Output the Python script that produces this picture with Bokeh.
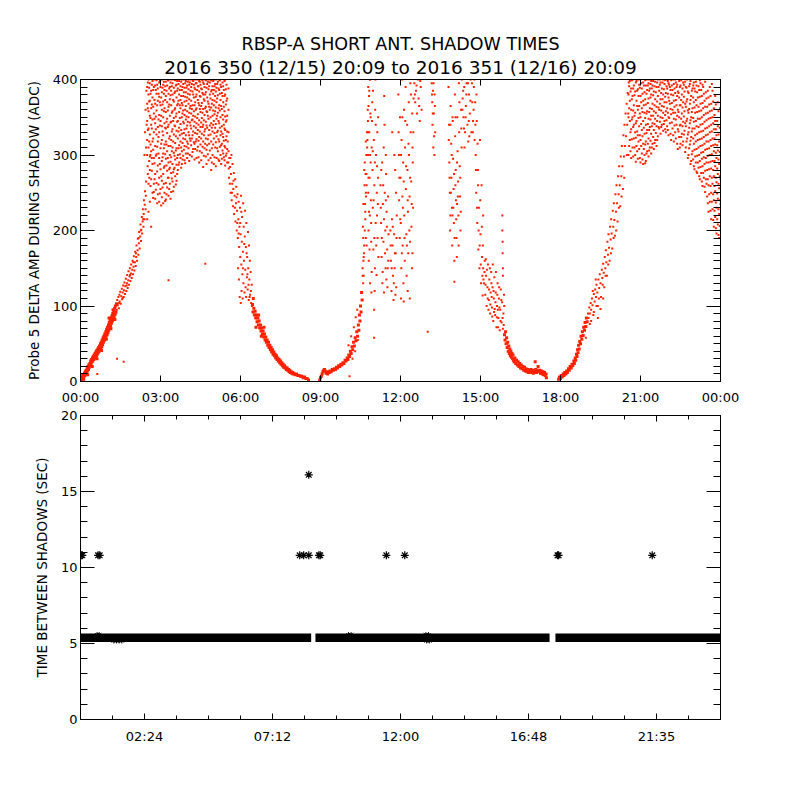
from bokeh.plotting import figure
from bokeh.models import Range1d, FixedTicker, LinearAxis, Title
from bokeh.layouts import column
from bokeh.embed import file_html
from bokeh.resources import INLINE

FONT = "DejaVu Sans"

# ---------------- texts / ticks ----------------
TITLE_1 = "RBSP-A SHORT ANT. SHADOW TIMES"
TITLE_2 = "2016 350 (12/15) 20:09 to 2016 351 (12/16) 20:09"
Y1_LABEL = "Probe 5 DELTA AMP DURING SHADOW (ADC)"
Y2_LABEL = "TIME BETWEEN SHADOWS (SEC)"

top_x_ticks = [0, 3, 6, 9, 12, 15, 18, 21, 24]
top_x_labels = ["00:00", "03:00", "06:00", "09:00", "12:00", "15:00", "18:00", "21:00", "00:00"]
top_y_ticks = [0, 100, 200, 300, 400]
top_y_minor = [v for v in range(10, 400, 10) if v % 100]
bot_x_ticks = [2.4, 7.2, 12.0, 16.8, 21.6]
bot_x_labels = ["02:24", "07:12", "12:00", "16:48", "21:35"]
bot_x_minor = [1.2, 3.6, 4.8, 6.0, 8.4, 9.6, 10.8, 13.2, 14.4, 15.6, 18.0, 19.2, 20.4, 22.8]
bot_y_ticks = [0, 5, 10, 15, 20]
bot_y_minor = [1, 2, 3, 4, 6, 7, 8, 9, 11, 12, 13, 14, 16, 17, 18, 19]

# ---------------- top panel data (hours, ADC) ----------------
# tight bands
rise1 = [(0.00,1),(0.02,4),(0.03,0),(0.05,6),(0.06,3),(0.08,8),(0.10,5),(0.11,9),(0.12,3),(0.13,7),(0.15,11),(0.16,8),
         (0.18,13),(0.20,10),(0.21,15),(0.23,12),(0.25,17),(0.26,14),(0.27,9),(0.28,20),(0.30,16),(0.31,22),(0.33,19),
         (0.35,24),(0.36,21),(0.38,27),(0.40,23),(0.41,29),(0.43,26),(0.44,20),(0.45,31),(0.46,27),(0.48,33),(0.50,29),
         (0.51,35),(0.53,31),(0.55,37),(0.56,32),(0.58,39),(0.60,34),(0.61,41),(0.62,30),(0.63,36),(0.65,43),(0.66,38),
         (0.68,45),(0.70,40),(0.71,47),(0.73,42),(0.75,50),(0.76,44),(0.78,52),(0.79,41),(0.80,46),(0.81,55),(0.83,49),
         (0.85,58),(0.86,52),(0.88,60),(0.90,55),(0.91,63),(0.93,57),(0.95,66),(0.96,60),(0.97,56),(0.98,69),(1.00,62),
         (1.01,72),(1.03,65),(1.05,75),(1.06,68),(1.07,84),(1.08,78),(1.10,71),(1.11,81),(1.13,74),(1.14,70),(1.15,84),
         (1.16,77),(1.18,87),(1.20,80),(1.21,90),(1.22,95),(1.23,83),(1.25,93),(1.26,86),(1.28,97),(1.29,82),(1.30,89),
         (1.31,100),(1.33,92),(1.35,103)]

descent1b = [(6.45,102),(6.47,92),(6.48,110),(6.50,97),(6.52,88),(6.55,93),(6.57,84),(6.58,72),(6.60,88),(6.62,79),
             (6.65,84),(6.67,75),(6.68,88),(6.70,80),(6.72,71),(6.75,75),(6.77,67),(6.78,60),(6.80,71),(6.82,63),
             (6.85,67),(6.87,59),(6.88,72),(6.90,63),(6.92,55),(6.95,59),(6.97,52),(7.00,55),(7.02,48),(7.05,52),
             (7.07,45),(7.10,48),(7.12,42),(7.15,45),(7.17,39),(7.20,42),(7.22,36),(7.25,39),(7.27,34),(7.30,36),
             (7.32,31),(7.35,34),(7.37,29),(7.40,31),(7.42,27),(7.45,29),(7.47,25),(7.50,27),(7.52,23),(7.55,25),
             (7.57,21),(7.60,23),(7.62,19),(7.65,21),(7.67,18),(7.70,19),(7.72,16),(7.75,18),(7.77,15),(7.80,16),
             (7.82,13),(7.85,15),(7.87,12),(7.90,13),(7.92,11),(7.95,12),(7.97,10),(8.00,11),(8.05,9),(8.10,10),
             (8.15,8),(8.20,8),(8.25,7),(8.30,7),(8.35,5),(8.40,6),(8.45,4),(8.50,4),(8.55,2)]

rise2 = [(8.97,2),(9.00,5),(9.03,7),(9.06,10),(9.09,13),(9.12,15),(9.15,16),(9.18,14),(9.21,11),(9.24,12),(9.27,10),
         (9.30,13),(9.33,12),(9.36,14),(9.40,13),(9.44,16),(9.48,15),(9.52,17),(9.56,16),(9.60,19),(9.64,18),(9.68,21),
         (9.72,20),(9.76,23),(9.80,22),(9.84,25),(9.88,24),(9.92,28),(9.96,27),(10.00,31),(10.03,29),(10.06,35),
         (10.09,33),(10.12,40),(10.15,37),(10.18,46),(10.21,42),(10.24,52),(10.27,47),(10.30,58),(10.33,54),(10.36,66),
         (10.39,60),(10.42,75),(10.44,68),(10.46,88),(10.48,80),(10.50,100),(10.52,92),(10.54,118),(10.56,108)]

descent2 = [(15.90,62),(15.92,55),(15.94,66),(15.96,50),(15.98,58),(16.00,45),(16.02,52),(16.04,40),(16.06,47),
            (16.08,37),(16.10,43),(16.12,34),(16.14,40),(16.16,32),(16.18,37),(16.20,30),(16.22,35),(16.24,28),
            (16.26,26),(16.29,31),(16.32,24),(16.35,28),(16.38,22),(16.41,26),(16.44,20),(16.47,24),(16.50,18),
            (16.53,22),(16.56,17),(16.59,20),(16.62,15),(16.65,19),(16.68,14),(16.71,17),(16.74,13),(16.77,16),
            (16.80,12),(16.83,15),(16.86,13),(16.89,16),(16.92,12),(16.95,15),(16.98,11),(17.01,14),(17.04,12),
            (17.05,26),(17.07,16),(17.10,12),(17.13,15),(17.16,20),(17.19,13),(17.22,15),(17.25,11),(17.28,14),
            (17.31,10),(17.34,13),(17.37,9),(17.40,12),(17.43,8),(17.46,10),(17.47,5)]

rise3a = [(17.93,3),(17.96,6),(18.00,4),(18.03,8),(18.06,6),(18.10,10),(18.13,8),(18.16,12),(18.20,10),(18.23,14),
          (18.26,12),(18.30,17),(18.33,15),(18.36,20),(18.40,18),(18.43,23),(18.46,21),(18.50,27),(18.52,24),(18.55,31),
          (18.57,28),(18.60,36),(18.62,33),(18.64,42),(18.66,38),(18.68,48),(18.70,43),(18.72,53),(18.75,50),(18.77,60),
          (18.80,56),(18.82,66),(18.85,61),(18.87,72),(18.90,68),(18.92,78),(18.95,73),(18.97,84),(19.00,79)]

# scattered parts
rise1b = [(1.36,95),(1.38,108),(1.40,101),(1.42,112),(1.44,97),(1.46,115),(1.47,106),(1.49,119),(1.51,103),(1.53,113),
          (1.55,123),(1.56,109),(1.58,118),(1.60,127),(1.62,112),(1.63,121),(1.65,131),(1.67,116),(1.68,126),(1.70,136),
          (1.72,120),(1.74,130),(1.75,141),(1.77,124),(1.79,134),(1.80,146),(1.82,128),(1.84,139),(1.85,150),(1.87,133),
          (1.89,143),(1.90,155),(1.92,137),(1.94,148),(1.95,160),(1.97,142),(1.99,152),(2.00,166),(2.02,147),(2.04,158),
          (2.05,172),(2.07,153),(2.09,165),(2.10,180),(2.12,160),(2.14,174),(2.15,189),(2.17,168),(2.19,183),(2.20,198),
          (2.22,176),(2.24,192),(2.25,208),(2.27,186),(2.28,201),(2.30,218),(2.31,196),(2.33,212),(2.34,228),(2.36,205),
          (2.37,222),(2.38,240),(2.40,215),(2.41,234),(2.42,252),(2.44,228),(2.45,246),(2.46,265),
          (2.50,215),(2.55,225),(2.60,238),(2.65,205),(2.70,250),(2.75,262),(2.58,270),(2.52,285),(2.62,300),
          (2.40,300),(2.42,330),(2.44,360),(2.46,310),(2.47,385),(2.48,340),
          (1.45,104),(1.59,111),(1.73,127),(1.86,141),(1.98,158),(2.08,170),(2.18,190),(2.26,200),(2.35,215)]

top1_cols = [
    (2.50,[300,320,345,368,390]),(2.55,[262,310,335,358,380,400]),(2.60,[280,298,327,352,372,395]),
    (2.65,[268,305,340,362,385]),(2.70,[288,318,347,376,398]),(2.75,[251,296,330,355,390]),
    (2.80,[242,275,312,342,368,392]),(2.85,[263,301,327,359,381,399]),(2.90,[248,286,318,337,372,388]),
    (2.95,[238,270,296,330,353,377,396]),(3.00,[255,281,309,345,366,390]),(3.05,[244,266,292,320,338,360,383,400]),
    (3.10,[236,275,302,326,350,371,393]),(3.15,[250,285,314,342,362,386]),(3.20,[241,263,295,318,335,357,378,397]),
    (3.25,[257,279,305,329,348,370,392]),(3.30,[246,270,290,312,340,364,381,399]),(3.35,[262,283,300,325,352,374,390]),
    (3.40,[251,276,297,320,344,366,385,400]),(3.45,[265,288,310,334,358,380,395]),(3.50,[258,281,303,327,349,371,389]),
    (3.55,[272,294,316,338,362,384,399]),(3.60,[266,287,309,332,355,376,393]),(3.65,[280,300,322,345,368,388]),
    (3.70,[290,313,336,357,380,398]),(3.75,[296,318,341,362,373,391]),(3.80,[288,305,328,350,369,386,400]),
    (3.85,[299,322,344,359,378,394]),(3.90,[293,312,334,353,371,389]),(3.95,[302,326,347,365,383,398]),
    (4.00,[296,318,339,358,376,392]),(4.05,[309,330,350,368,387,400]),(4.10,[300,322,343,362,380,396]),
    (4.15,[313,335,355,372,390]),(4.20,[304,326,347,366,384,399]),(4.25,[317,338,358,376,393]),
    (4.30,[308,329,351,370,387,400]),(4.35,[296,321,342,362,380,395]),(4.40,[311,333,354,373,391]),
    (4.45,[290,324,346,366,384,398]),(4.50,[314,337,357,377,393]),(4.55,[303,328,349,369,387,400]),
    (4.60,[284,318,340,361,380,396]),(4.65,[309,331,353,372,390]),(4.70,[298,322,344,364,383,399]),
    (4.75,[313,336,357,376,394]),(4.80,[293,326,348,368,387,400]),(4.85,[306,339,360,380,396]),
    (4.90,[280,318,342,363,384,399]),(4.95,[300,331,352,373,391]),(5.00,[288,322,345,366,386,400]),
    (5.05,[310,336,358,378,394]),(5.10,[296,325,348,370,389]),(5.15,[305,332,356,379,397]),
    (5.20,[292,318,342,366,386,400]),(5.25,[300,326,350,373,393]),(5.30,[295,315,338,361,382]),
    (5.35,[302,324,347,370,391]),(5.40,[293,312,335,358,378,398]),(5.45,[299,320,344,367,387]),
    (5.50,[290,308,331,352,375]),(5.55,[330,360,388]),
]

top1_cols_b = [
    (2.525,[275,333,362,396]),(2.575,[292,318,371,389]),(2.625,[259,314,349,381]),(2.675,[279,296,335,367,393]),
    (2.725,[243,307,322,364,386]),(2.775,[268,289,348,373,400]),(2.825,[254,299,334,351,386]),
    (2.875,[236,278,311,366,393]),(2.925,[261,302,324,347,381]),(2.975,[249,288,339,370,398]),
    (3.025,[233,272,315,352,376]),(3.075,[257,297,331,367,389]),(3.125,[262,283,309,358,381,397]),
    (3.175,[239,301,336,373,391]),(3.225,[248,286,314,344,385]),(3.275,[270,296,337,359,399]),
    (3.325,[255,281,322,367,388]),(3.375,[242,291,312,343,379,396]),(3.425,[269,305,331,356,391]),
    (3.475,[252,277,318,345,373,400]),(3.525,[283,299,339,360,382]),(3.575,[261,306,325,351,392]),
    (3.625,[275,296,344,366,385,398]),(3.675,[287,309,331,372,394]),(3.725,[301,326,349,366,386]),
    (3.775,[283,310,333,378,397]),(3.825,[294,316,355,366,390]),(3.875,[307,329,342,383,400]),
    (3.925,[289,321,360,377,395]),(3.975,[311,335,351,372,389]),(4.025,[302,315,344,381,397]),
    (4.075,[292,326,356,374,393]),(4.125,[319,339,365,385,400]),(4.175,[298,322,346,361,394]),
    (4.225,[308,331,352,380,398]),(4.275,[294,315,344,366,389]),(4.325,[318,336,360,377,395]),
    (4.375,[306,328,349,386,400]),(4.425,[297,319,340,369,391]),(4.475,[305,331,361,378,397]),
    (4.525,[293,322,343,365,388]),(4.575,[311,337,356,382,399]),(4.625,[299,326,346,374,394]),
    (4.675,[315,334,362,380,400]),(4.725,[288,307,339,358,389]),(4.775,[301,321,352,371,397]),
    (4.825,[315,333,364,391]),(4.875,[296,327,350,375,400]),(4.925,[290,309,336,368,386]),
    (4.975,[314,340,359,381,398]),(5.025,[297,329,354,372,391]),(5.075,[285,317,341,363,384,400]),
    (5.125,[309,330,352,375,394]),(5.175,[294,321,345,362,388]),(5.225,[311,336,359,381,399]),
    (5.275,[288,313,331,365,390]),(5.325,[306,328,353,378,396]),(5.375,[297,319,340,364,386]),
    (5.425,[286,310,333,351,380,400]),(5.475,[302,325,346,372,393]),
]

descent1 = [(5.52,318),(5.54,290),(5.55,305),(5.57,270),(5.58,296),(5.60,262),(5.61,284),(5.63,250),(5.64,275),
            (5.66,300),(5.67,240),(5.69,262),(5.70,288),(5.72,232),(5.73,255),(5.75,276),(5.76,222),(5.78,246),
            (5.80,268),(5.81,212),(5.83,236),(5.84,258),(5.86,200),(5.87,226),(5.89,248),(5.90,190),(5.92,215),
            (5.93,238),(5.95,178),(5.96,205),(5.98,230),(5.99,165),(6.00,195),(6.01,104),(6.02,246),(6.03,155),
            (6.04,120),(6.05,185),(6.06,218),(6.07,142),(6.08,110),(6.09,172),(6.10,236),(6.11,130),(6.12,205),
            (6.13,160),(6.15,118),(6.16,192),(6.17,226),(6.18,148),(6.20,178),(6.21,112),(6.22,210),(6.24,138),
            (6.25,165),(6.27,122),(6.28,198),(6.29,150),(6.31,108),(6.32,180),(6.33,135),(6.35,160),(6.36,115),
            (6.38,145),(6.40,104),(6.42,128),(6.43,100),(5.97,112),(5.94,135),(5.91,150),
            (5.56,282),(5.62,296),(5.68,250),(5.74,266),(5.79,230),(5.85,244),(5.88,210),(5.93,196),(5.99,210),
            (6.03,225),(6.09,150),(6.14,182),(6.19,125),(6.23,170),(6.26,142),(6.30,128),(6.34,112),(6.39,120)]

rise2b = [(10.58,140),(10.60,130),(10.62,165),(10.64,180),(10.66,200),(10.68,225),(10.70,250),(10.72,275),(10.74,300),
          (10.76,320),(10.78,345),(10.80,365),(10.83,385),(10.86,400),
          (10.05,48),(10.15,60),(10.25,72),(10.32,85),(10.38,95),(10.20,30),(10.30,40),(10.40,55)]

streaks = [(10.58,150),(10.60,190),(10.61,235),(10.63,170),(10.65,260),(10.66,290),(10.68,215),(10.70,318),(10.71,245),
           (10.73,180),(10.74,330),(10.62,140),(10.69,275),(10.72,300),
           (10.77,360),(10.78,300),(10.79,250),(10.80,200),(10.81,160),(10.82,378),(10.83,330),(10.84,270),(10.85,220),
           (10.86,130),(10.87,355),(10.88,290),(10.89,240),(10.90,185),(10.91,118),(10.92,310),(10.79,390),(10.85,400),
           (10.93,345),(10.95,280),(10.96,230),(10.98,175),(11.00,320),(11.01,58),(11.01,95),(11.02,260),(11.04,150),
           (11.05,360),(11.07,210),(11.08,300),(11.10,141),(11.11,250),(11.13,330),(11.14,190),(11.16,270),(11.17,165),
           (10.97,385),(11.06,400),(11.03,120),(11.12,220),
           (11.25,260),(11.27,210),(11.29,165),(11.31,290),(11.32,130),(11.34,235),(11.36,185),(11.38,118),(11.39,378),
           (11.40,340),(11.41,250),(11.43,200),(11.44,150),(11.46,275),(11.48,225),(11.50,175),(11.51,125),(11.53,245),
           (11.55,195),(11.37,310),(11.45,300),(11.52,150),
           (11.62,200),(11.64,160),(11.66,120),(11.68,215),(11.70,180),(11.72,140),(11.74,108),(11.76,195),(11.78,150),
           (11.80,280),(11.82,170),(11.84,125),(11.86,220),(11.69,330),(11.77,300),(11.83,250),
           (11.92,380),(11.94,300),(11.95,240),(11.97,190),(11.98,350),(12.00,270),(12.01,210),(12.03,150),(12.04,320),
           (12.06,400),(12.07,245),(12.08,180),(12.10,290),(12.11,130),(12.13,360),(12.14,220),(12.16,160),(12.17,310),
           (12.19,390),(12.20,255),(12.22,195),(12.23,140),(12.25,340),(12.26,280),(12.28,225),(12.29,170),(12.31,370),
           (12.32,300),(12.34,245),(12.35,110),(12.37,395),(12.38,330),(12.40,265),(12.41,205),(12.43,150),(12.44,355),
           (12.46,290),(12.47,230),(12.49,375),(12.02,110),(12.12,106),(12.27,120),(12.36,185),(12.45,310),
           (12.52,395),(12.55,370),(12.58,385),(12.62,355),(12.65,400),(12.68,375),(12.72,345),(12.76,390),(12.79,360),
           (13.17,395),(13.19,370),(13.20,340),(13.22,385),(13.23,310),(13.25,355),(13.27,300),(13.28,380),(13.30,330),
           (13.80,390),(13.82,340),(13.83,290),(13.85,250),(13.86,200),(13.88,365),(13.90,315),(13.91,270),(13.93,230),
           (13.94,180),(13.96,345),(13.97,295),(13.99,255),(14.00,210),(14.02,160),(14.04,380),(14.05,325),(14.07,280),
           (14.08,240),(14.10,190),(14.11,165),(14.13,350),(14.14,305),(14.16,265),(14.17,220),(14.19,395),(14.20,330),
           (14.22,285),(14.23,245),(14.25,200),(14.27,360),(14.29,310),(13.95,220),(14.06,260),(14.12,235),(13.87,220),
           (14.30,400),(14.33,375),(14.36,350),(14.39,390),(14.42,330),(14.45,365),(14.48,395),(14.51,340),(14.54,318),
           (14.57,380),(14.60,355),(14.63,400),(14.66,330),(14.69,370),(14.72,345),(14.75,390),(14.78,320),(14.40,310),
           (14.58,325),
           (14.80,370),(14.82,300),(14.84,250),(14.86,345),(14.88,210),(14.90,280),(14.92,175),(14.94,230),(14.96,150),
           (14.98,320),(15.00,195),(15.02,130),(15.04,260),(15.06,165),(15.08,114),(15.10,220),(14.85,380)]

streaks_b = [(10.59,205),(10.61,160),(10.64,280),(10.67,235),(10.70,190),(10.73,260),(10.75,310),
             (10.78,330),(10.80,270),(10.82,225),(10.84,175),(10.86,300),(10.88,350),(10.90,210),(10.92,145),
             (10.94,370),(10.96,305),(10.99,240),(11.02,190),(11.04,290),(11.07,340),(11.09,180),(11.12,285),
             (11.15,235),(11.16,350),
             (11.26,230),(11.28,280),(11.30,190),(11.33,145),(11.35,260),(11.38,215),(11.42,170),(11.45,240),
             (11.47,135),(11.49,205),(11.54,160),
             (11.63,180),(11.67,150),(11.71,205),(11.75,130),(11.79,170),(11.81,115),(11.85,190),
             (11.93,330),(11.96,270),(11.99,215),(12.02,300),(12.05,170),(12.07,350),(12.09,230),(12.12,265),
             (12.15,190),(12.18,345),(12.21,285),(12.24,180),(12.27,240),(12.30,315),(12.33,200),(12.36,270),
             (12.39,380),(12.42,235),(12.45,170),(12.48,330),
             (12.54,380),(12.60,392),(12.70,365),(12.74,398),
             (13.18,380),(13.21,355),(13.24,395),(13.26,325),(13.29,365),
             (13.81,320),(13.84,270),(13.87,340),(13.89,250),(13.92,300),(13.95,350),(13.98,230),(14.01,275),
             (14.03,190),(14.06,350),(14.09,215),(14.12,290),(14.15,245),(14.18,180),(14.21,370),(14.24,270),
             (14.26,225),(14.28,335),
             (14.32,360),(14.35,385),(14.38,335),(14.44,350),(14.47,380),(14.53,395),(14.56,345),(14.62,372),
             (14.68,395),(14.71,330),(14.74,360),(14.77,400),
             (14.81,340),(14.83,280),(14.87,230),(14.89,315),(14.91,260),(14.93,200),(14.97,180),(14.99,240),
             (15.01,155),(15.05,205),(15.07,140),(15.09,180)]

cluster2 = [(15.10,150),(15.13,130),(15.16,160),(15.18,115),(15.21,140),(15.23,100),(15.26,125),(15.28,155),(15.31,108),
            (15.33,135),(15.36,90),(15.38,118),(15.40,145),(15.43,98),(15.45,125),(15.48,80),(15.50,110),(15.52,138),
            (15.55,88),(15.57,118),(15.60,72),(15.62,100),(15.64,130),(15.67,84),(15.69,110),(15.72,68),(15.74,95),
            (15.76,122),(15.79,78),(15.81,105),(15.84,70),(15.86,90),(15.88,115),(15.20,162),(15.35,150),(15.46,155),
            (15.58,145),(15.65,95),(15.30,95),(15.42,112),(15.53,96),(15.70,125),
            (15.82,220),(15.82,200),(15.83,185),(15.83,170),(15.84,150),(15.84,140),
            (15.11,135),(15.15,145),(15.19,128),(15.24,148),(15.27,110),(15.32,122),(15.37,102),(15.41,130),(15.44,86),
            (15.49,120),(15.51,92),(15.56,105),(15.61,85),(15.63,115),(15.66,72),(15.71,98),(15.75,80),(15.78,108),
            (15.83,84),(15.87,75),(15.89,100)]

rise3b = [(19.03,90),(19.05,84),(19.08,98),(19.10,90),(19.13,104),(19.15,95),(19.18,110),(19.20,101),(19.23,88),
          (19.25,116),(19.28,106),(19.30,122),(19.33,112),(19.35,128),(19.38,118),(19.40,100),(19.42,135),(19.45,124),
          (19.47,142),(19.50,130),(19.52,112),(19.55,148),(19.57,137),(19.60,156),(19.62,144),(19.64,125),(19.66,165),
          (19.68,150),(19.70,174),(19.72,158),(19.74,140),(19.76,185),(19.78,168),(19.80,195),(19.82,177),(19.84,160),
          (19.86,205),(19.88,188),(19.90,215),(19.92,196),(19.94,176),(19.96,226),(19.98,205),(20.00,236),(20.02,214),
          (20.04,193),(20.06,248),(20.08,225),(20.10,260),(20.12,236),(20.14,212),(20.16,272),(20.18,248),(20.20,285),
          (20.22,260),(20.24,232),(20.26,298),(20.28,272),(20.30,312),(20.32,285),(20.34,255),(20.36,326),(20.38,298),
          (20.40,340),(20.42,312),(20.44,355),(20.46,325),(20.48,368),(20.50,340),(20.52,382),(20.54,355),(20.56,396),
          (19.15,80),(19.25,92),(19.35,100),(19.40,84),(19.50,96),(19.60,110),(19.10,76),(18.95,58),
          (19.21,120),(19.32,135),(19.44,110),(19.58,128),(19.69,140),(19.79,155),(19.89,170),(19.99,190),(20.09,200),
          (20.19,230),(20.29,245),(20.39,270),(20.49,300)]

top3_cols = [
    (20.55,[300,350,380]),(20.60,[320,345,372,398]),(20.65,[296,334,360,388]),(20.70,[310,350,378,400]),
    (20.75,[322,340,366,392]),(20.80,[300,330,356,384]),(20.85,[312,345,372,398]),(20.90,[295,326,360,387]),
    (20.95,[308,338,365,393]),(21.00,[290,320,350,378,400]),(21.05,[302,333,362,388]),(21.10,[288,315,345,372,396]),
    (21.15,[300,328,356,383]),(21.20,[292,318,340,367,392]),(21.25,[305,333,358,386,400]),(21.30,[298,322,348,375,395]),
    (21.35,[310,337,362,388]),(21.40,[302,328,352,380,398]),(21.45,[315,342,368,392]),(21.50,[308,333,358,384]),
    (21.55,[320,348,374,397]),(21.60,[312,338,364,390]),(21.65,[325,352,378,400]),(21.70,[335,360,385]),
    (21.75,[328,350,374,396]),(21.80,[340,365,388]),(21.85,[332,356,380,400]),(21.90,[345,370,394]),
    (21.95,[330,358,382]),(22.00,[338,362,388,400]),(22.05,[326,350,376,395]),(22.10,[342,368,390]),
    (22.15,[320,354,380,399]),(22.20,[335,360,386]),(22.25,[318,348,372,394]),(22.30,[330,356,382,400]),
    (22.35,[340,366,390]),(22.40,[308,334,360,384]),(22.45,[324,350,376,398]),(22.50,[315,340,366,392]),
    (22.55,[328,355,380]),(22.60,[318,344,370,396]),(22.65,[332,358,384]),(22.70,[310,338,364,390]),
    (22.75,[322,348,374,400]),(22.80,[300,330,356,382]),(22.85,[314,342,368,394]),(22.90,[292,324,350,378]),
    (22.95,[305,335,362,388]),(23.00,[285,315,344,370,396]),(23.05,[298,326,356,384]),(23.10,[278,308,338,366,392]),
    (23.15,[290,320,348,376]),(23.20,[272,300,330,358,386]),(23.25,[284,312,340,368,395]),(23.30,[265,295,322,350,378]),
    (23.35,[276,304,332,362,390]),(23.40,[258,288,315,344,372]),(23.45,[268,296,326,355,383]),
    (23.50,[245,280,308,336,364]),(23.55,[225,260,290,318,348,376]),(23.60,[238,272,300,330,358,390]),
    (23.65,[215,250,282,312,340,368]),(23.70,[228,262,292,322,350,385]),(23.75,[205,240,272,305,334,362]),
    (23.80,[218,252,285,314,345,378]),(23.85,[196,230,264,296,326]),(23.90,[208,242,275,306,338,370]),
    (23.95,[190,222,256,288,318]),(23.98,[362]),(24.00,[200,235,268,300]),
]

top3_cols_b = [
    (20.575,[312,362,391]),(20.625,[305,330,384]),(20.675,[321,347,374,399]),(20.725,[298,337,359,388]),
    (20.775,[310,352,379]),(20.825,[291,323,342,396]),(20.875,[305,331,365,385]),(20.925,[318,349,378,400]),
    (20.975,[296,326,355,389]),(21.025,[312,341,370,395]),(21.075,[294,325,357,381]),(21.125,[308,336,366,392]),
    (21.175,[289,314,349,374,399]),(21.225,[302,329,355,381]),(21.275,[315,341,369,392]),
    (21.325,[306,333,357,385,400]),(21.375,[319,347,376,394]),(21.425,[310,338,361,388]),(21.475,[324,352,379,398]),
    (21.525,[316,341,366,391]),(21.575,[329,356,383]),(21.625,[320,345,371,396]),(21.675,[337,363,390]),
    (21.725,[344,368,393,400]),(21.775,[337,359,382]),(21.825,[349,374,396]),(21.875,[341,364,387]),
    (21.925,[334,353,377,399]),(21.975,[346,370,391]),(22.025,[333,356,381,398]),(22.075,[349,372,393]),
    (22.125,[328,361,386]),(22.175,[343,369,392]),(22.225,[326,356,379,400]),(22.275,[339,364,388]),
    (22.325,[322,347,373,396]),(22.375,[315,352,378,393]),(22.425,[331,357,382]),(22.475,[310,339,366,390]),
    (22.525,[324,348,373,399]),(22.575,[313,338,363,388]),(22.625,[327,351,377,393]),(22.675,[304,342,368,397]),
    (22.725,[318,345,371,389]),(22.775,[296,327,359,384]),(22.825,[309,336,361,391]),(22.875,[288,319,346,373,398]),
    (22.925,[301,331,357,385]),(22.975,[294,322,349,376,392]),(23.025,[281,307,335,363,388]),
    (23.075,[290,318,345,373,397]),(23.125,[276,299,328,357,383]),(23.175,[283,310,337,364,391]),
    (23.225,[268,292,321,348,377,399]),(23.275,[276,303,331,359,386]),(23.325,[259,285,313,341,369,393]),
    (23.375,[270,297,324,353,381]),(23.425,[251,279,307,335,364,397]),(23.475,[262,290,318,346,375]),
    (23.525,[236,268,299,327,356,385]),(23.575,[248,281,309,338,367]),(23.625,[226,259,291,320,349,378]),
    (23.675,[238,270,301,331,359,394]),(23.725,[214,248,280,313,342,371]),(23.775,[226,259,292,322,353]),
    (23.825,[203,237,270,303,334,367]),(23.875,[215,249,282,313,345]),(23.925,[194,228,262,294,327,358]),
    (23.975,[206,240,272,304,336]),
]

outliers = [(0.63,10),(1.37,30),(1.62,26),(3.30,134),(4.68,156),(10.09,7),(13.02,66),(14.02,132)]

# ---------------- bottom panel data (hours, seconds) ----------------
band_start = [0.0, 8.81, 17.81]
band_end = [8.65, 17.59, 24.0]
band_value = [5.38, 5.38, 5.38]
star_t = [0.03, 0.07, 0.66, 0.72, 8.22, 8.37, 8.56, 8.94, 8.99, 11.47, 12.16, 17.89, 17.93, 21.44, 8.56]
star_v = [10.8, 10.8, 10.8, 10.8, 10.8, 10.8, 10.8, 10.8, 10.8, 10.8, 10.8, 10.8, 10.8, 10.8, 16.1]
tip_t = [0.62, 0.70, 10.05, 10.15, 12.95, 13.05, 1.25, 1.35, 1.45, 1.55, 12.98, 13.08]
tip_v = [5.55, 5.55, 5.55, 5.55, 5.55, 5.55, 5.2, 5.2, 5.2, 5.2, 5.2, 5.2]


def unzip(pairs):
    return [p[0] for p in pairs], [p[1] for p in pairs]


def from_cols(cols):
    t, v = [], []
    for h, vs in cols:
        for y in vs:
            t.append(h)
            v.append(y)
    return t, v


def gather(pair_lists, col_lists=()):
    t, v = [], []
    for part in pair_lists:
        a, b = unzip(part)
        t += a
        v += b
    for part in col_lists:
        a, b = from_cols(part)
        t += a
        v += b
    return t, v


band_t, band_v = gather([rise1, descent1b, rise2, descent2, rise3a])
scat_t, scat_v = gather([rise1b, descent1, rise2b, streaks, streaks_b, cluster2, rise3b, outliers],
                        [top1_cols, top1_cols_b, top3_cols, top3_cols_b])


def setup_axis(ax, ticks, minor, labels, major_in, minor_in, show=True):
    ax.ticker = FixedTicker(ticks=ticks, minor_ticks=minor)
    ax.major_tick_in = major_in
    ax.major_tick_out = 0
    ax.minor_tick_in = minor_in
    ax.minor_tick_out = 0
    ax.axis_line_color = "black"
    ax.major_tick_line_color = "black"
    ax.minor_tick_line_color = "black"
    ax.axis_line_width = 1
    ax.major_tick_line_width = 1
    ax.minor_tick_line_width = 1
    if labels is not None:
        ax.major_label_overrides = {float(t): l for t, l in zip(ticks, labels)}
    ax.major_label_text_font = FONT
    ax.major_label_text_font_size = "13px"
    ax.major_label_text_color = "black"
    if not show:
        ax.major_label_text_font_size = "1px"
        ax.major_label_text_color = None
        ax.major_label_standoff = 0
    ax.axis_label_text_font = FONT
    ax.axis_label_text_font_size = "13.5px"
    ax.axis_label_text_font_style = "normal"
    ax.axis_label_text_color = "black"


# ---------------- top figure ----------------
p1 = figure(width=800, height=407, x_range=Range1d(0, 24), y_range=Range1d(0, 400),
            output_backend="svg", toolbar_location=None, title=None,
            min_border_left=80, min_border_right=80, min_border_top=79, min_border_bottom=24)
p1.grid.visible = False
p1.outline_line_color = "black"
p1.background_fill_color = "white"
p1.border_fill_color = "white"

setup_axis(p1.xaxis[0], top_x_ticks, [], top_x_labels, 6, 0)
p1.xaxis[0].major_label_standoff = 8
setup_axis(p1.yaxis[0], top_y_ticks, top_y_minor, None, 14, 7)
p1.yaxis[0].major_label_standoff = 3
p1.yaxis[0].axis_label = Y1_LABEL
p1.yaxis[0].axis_label_standoff = 8

ax = LinearAxis()
setup_axis(ax, top_x_ticks, [], None, 6, 0, show=False)
p1.add_layout(ax, "above")
ax = LinearAxis()
setup_axis(ax, top_y_ticks, top_y_minor, None, 14, 7, show=False)
p1.add_layout(ax, "right")

p1.add_layout(Title(text=TITLE_2, align="center", text_font=FONT, text_font_size="18.5px",
                    text_font_style="normal", text_color="black", standoff=3), "above")
p1.add_layout(Title(text=TITLE_1, align="center", text_font=FONT, text_font_size="17.5px",
                    text_font_style="normal", text_color="black", standoff=0), "above")

p1.scatter(scat_t, scat_v, marker="square", size=2, fill_color="#ff2000", line_color=None)
p1.scatter(band_t, band_v, marker="square", size=3, fill_color="#ff2000", line_color=None)

# ---------------- bottom figure ----------------
p2 = figure(width=800, height=353, x_range=Range1d(0, 24), y_range=Range1d(0, 20),
            output_backend="svg", toolbar_location=None, title=None,
            min_border_left=80, min_border_right=80, min_border_top=8, min_border_bottom=41)
p2.grid.visible = False
p2.outline_line_color = "black"
p2.background_fill_color = "white"
p2.border_fill_color = "white"

setup_axis(p2.xaxis[0], bot_x_ticks, bot_x_minor, bot_x_labels, 6, 4)
p2.xaxis[0].major_label_standoff = 9
setup_axis(p2.yaxis[0], bot_y_ticks, bot_y_minor, None, 14, 7)
p2.yaxis[0].major_label_standoff = 3
p2.yaxis[0].axis_label = Y2_LABEL
p2.yaxis[0].axis_label_standoff = 8

ax = LinearAxis()
setup_axis(ax, bot_x_ticks, bot_x_minor, None, 6, 4, show=False)
p2.add_layout(ax, "above")
ax = LinearAxis()
setup_axis(ax, bot_y_ticks, bot_y_minor, None, 14, 7, show=False)
p2.add_layout(ax, "right")

p2.hbar(y=band_value, left=band_start, right=band_end, height=0.55, fill_color="black", line_color=None)
p2.scatter(star_t, star_v, marker="asterisk", size=8, line_color="black", line_width=1.2)
p2.scatter(tip_t, tip_v, marker="asterisk", size=6, line_color="black", line_width=1)

layout = column(p1, p2)
open("out.html", "w").write(file_html(layout, INLINE))
